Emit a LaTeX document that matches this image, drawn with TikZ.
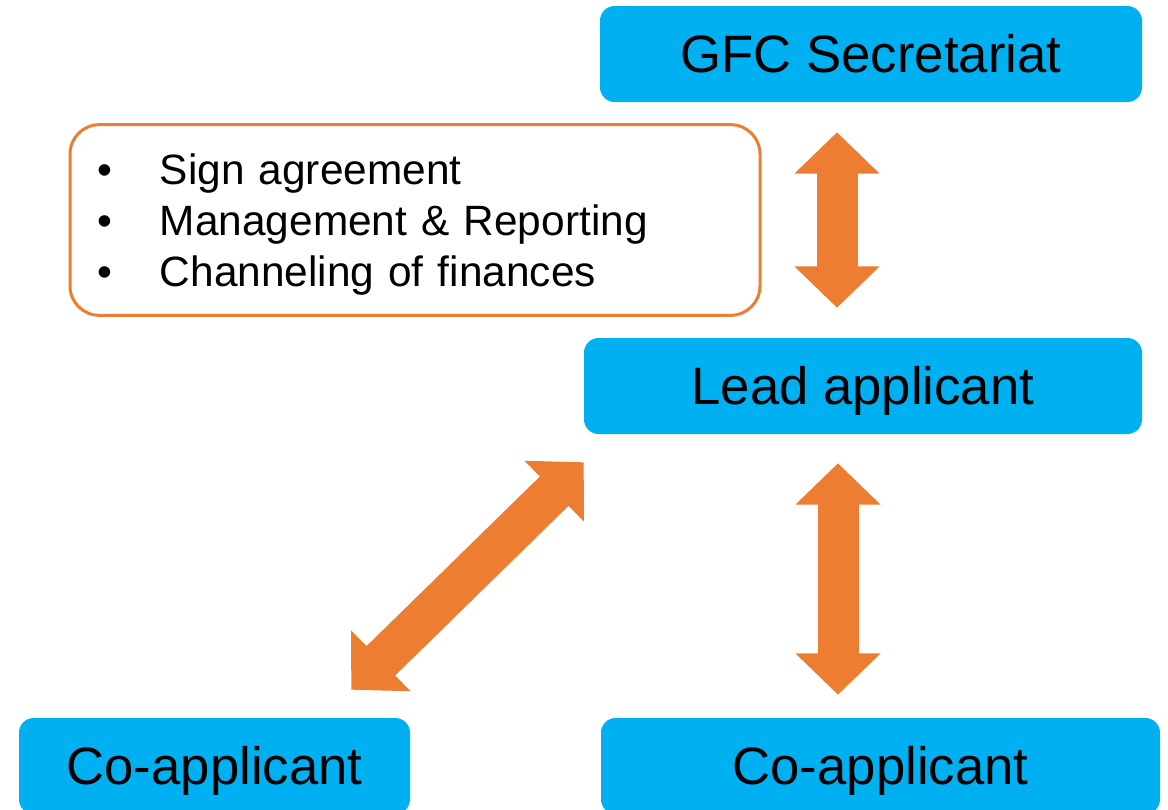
\documentclass[tikz,border=0pt]{standalone}
\usepackage{fontspec}
\setmainfont{Liberation Sans}
\usetikzlibrary{arrows.meta,calc}
\definecolor{boxblue}{HTML}{00B0F0}
\definecolor{linkorange}{HTML}{ED7D31}
\begin{document}
\begin{tikzpicture}[x=0.75pt,y=-0.75pt,
  role/.style={fill=boxblue, rounded corners=11pt, minimum height=72pt, inner sep=0pt,
    text height=28.4pt, text depth=0pt, font=\fontsize{39.5}{47}\selectfont},
  duties box/.style={draw=linkorange, line width=2.25pt, rounded corners=22pt,
    minimum height=143pt, inner xsep=20.25pt, text width=477pt, align=left,
    font=\fontsize{31.8}{38}\selectfont},
  link/.style={linkorange, line width=30.75pt,
    {Triangle[width=62pt,length=31pt]}-{Triangle[width=62pt,length=31pt]}}]
\useasboundingbox (0,0) rectangle (1168,810);

\node[role, minimum width=406.5pt] (gfc) at (871,54) {GFC Secretariat};
\node[role, minimum width=418.5pt] (lead) at (863,386) {Lead applicant};
\node[role, minimum width=293.25pt] (coL) at (214.5,766) {Co-applicant};
\node[role, minimum width=419.25pt] (coR) at (880.5,766) {Co-applicant};

\node[duties box] (duties) at (415,220) {\raisebox{-4pt}[\height][\depth]{\begin{tabular}{@{}l@{\hspace{36pt}}l@{}}
\textbullet & Sign agreement\\
\textbullet & Management \& Reporting\\
\textbullet & Channeling of finances
\end{tabular}}};

% two-way links
\draw[link] ($(gfc.south)+(-34,30)$) -- ($(lead.north)+(-26,-30)$);
\draw[link] ($(lead.south)+(-25,29)$) -- ($(coR.north)+(-42.5,-23)$);
\draw[link] ($(lead.south west)+(0,28)$) -- ($(coL.north east)+(-59,-28)$);

\end{tikzpicture}
\end{document}
